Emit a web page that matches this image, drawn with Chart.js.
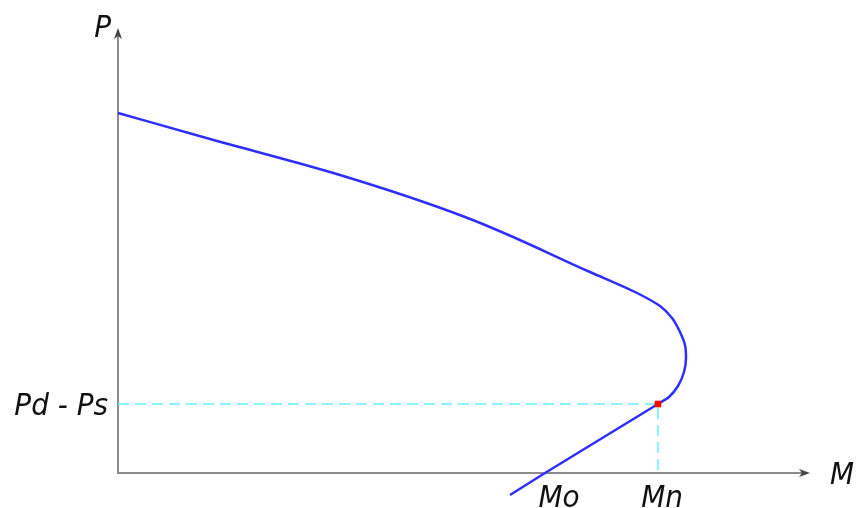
<!DOCTYPE html>
<html>
<head>
<meta charset="utf-8">
<script src="https://cdn.jsdelivr.net/npm/chart.js@4/dist/chart.umd.min.js"></script>
<style>
  html, body { margin: 0; padding: 0; background: #ffffff; }
  #wrap { width: 857px; height: 508px; }
</style>
</head>
<body>
<div id="wrap"><canvas id="c" width="857" height="508"></canvas></div>
<script>
// Operating curve P(M): upper branch bending back at the nose
const curveM = [0, 92, 222, 347, 472, 517, 542, 554, 562, 567, 568, 566, 560, 551, 540];
const curveP = [360, 334, 298, 256, 201, 181, 167, 155, 141, 128, 115, 101, 87, 76, 69];

// Straight branch from the operating point down past the M axis
const lineM = [540, 427, 392];
const lineP = [69, 0, -22];

// Operating point (Mn, Pd - Ps) and the crossing Mo
const pointMn = 540;
const pointP = 69;
const pointMo = 427;

// Axis extents
const axisMaxM = 692;
const axisMaxP = 445;

// Axis and guide labels
const labelP = 'P';
const labelM = 'M';
const labelPdPs = 'Pd - Ps';
const labelMo = 'Mo';
const labelMn = 'Mn';

const blue = '#2e2eff';
const cyan = '#66eeff';
const labelFont = 'italic 31px "Liberation Sans Narrow", "DejaVu Sans Condensed", sans-serif';

const toPts = (xs, ys) => xs.map((x, i) => ({ x: x, y: ys[i] }));

const axesPlugin = {
  id: 'arrowAxes',
  beforeDatasetsDraw(chart) {
    const { ctx, scales: { x, y } } = chart;
    const x0 = x.getPixelForValue(0), y0 = y.getPixelForValue(0);
    const xEnd = x.getPixelForValue(axisMaxM), yEnd = y.getPixelForValue(axisMaxP);
    ctx.save();
    ctx.strokeStyle = '#8c8c8c';
    ctx.lineWidth = 2;
    ctx.beginPath();
    ctx.moveTo(x0, y0 + 1); ctx.lineTo(x0, yEnd + 4);
    ctx.moveTo(x0 - 1, y0); ctx.lineTo(xEnd - 4, y0);
    ctx.stroke();
    // arrowheads
    ctx.fillStyle = '#444';
    ctx.beginPath();
    ctx.moveTo(x0, yEnd);
    ctx.lineTo(x0 - 4, yEnd + 11);
    ctx.lineTo(x0, yEnd + 8);
    ctx.lineTo(x0 + 4, yEnd + 11);
    ctx.closePath();
    ctx.fill();
    ctx.beginPath();
    ctx.moveTo(xEnd, y0);
    ctx.lineTo(xEnd - 11, y0 - 4);
    ctx.lineTo(xEnd - 8, y0);
    ctx.lineTo(xEnd - 11, y0 + 4);
    ctx.closePath();
    ctx.fill();
    ctx.restore();
  },
  afterDraw(chart) {
    const { ctx, scales: { x, y } } = chart;
    const x0 = x.getPixelForValue(0), y0 = y.getPixelForValue(0);
    ctx.save();
    ctx.fillStyle = '#111';
    ctx.font = labelFont;
    ctx.textBaseline = 'alphabetic';
    ctx.textAlign = 'right';
    ctx.fillText(labelP, x0 - 7, y.getPixelForValue(axisMaxP) + 9);
    ctx.fillText(labelPdPs, x0 - 10, y.getPixelForValue(pointP) + 11);
    ctx.textAlign = 'left';
    ctx.fillText(labelM, x.getPixelForValue(axisMaxM) + 20, y0 + 11);
    ctx.textAlign = 'center';
    ctx.fillText(labelMo, x.getPixelForValue(pointMo) + 14, y0 + 34);
    ctx.fillText(labelMn, x.getPixelForValue(pointMn) + 4, y0 + 34);
    ctx.restore();
  }
};

new Chart(document.getElementById('c'), {
  type: 'line',
  data: {
    datasets: [
      {
        data: toPts([0, pointMn, pointMn], [pointP, pointP, 0]),
        borderColor: cyan,
        borderWidth: 1.5,
        borderDash: [11, 6],
        pointRadius: 0,
        tension: 0,
        order: 3
      },
      {
        data: toPts(curveM, curveP),
        borderColor: blue,
        borderWidth: 2.5,
        pointRadius: 0,
        cubicInterpolationMode: 'monotone',
        clip: false,
        order: 2
      },
      {
        data: toPts(lineM, lineP),
        borderColor: blue,
        borderWidth: 2.5,
        pointRadius: 0,
        tension: 0,
        clip: false,
        order: 2
      },
      {
        data: [{ x: pointMn, y: pointP }],
        pointStyle: 'rect',
        pointRadius: 4,
        pointBackgroundColor: '#ff0000',
        pointBorderColor: '#ff0000',
        showLine: false,
        order: 1
      }
    ]
  },
  options: {
    indexAxis: 'y',
    responsive: false,
    animation: false,
    layout: { padding: { left: 118, right: 47, top: 28, bottom: 35 } },
    plugins: { legend: { display: false }, tooltip: { enabled: false } },
    scales: {
      x: { type: 'linear', min: 0, max: axisMaxM, display: false },
      y: { type: 'linear', min: 0, max: axisMaxP, display: false }
    }
  },
  plugins: [axesPlugin]
});
</script>
</body>
</html>
